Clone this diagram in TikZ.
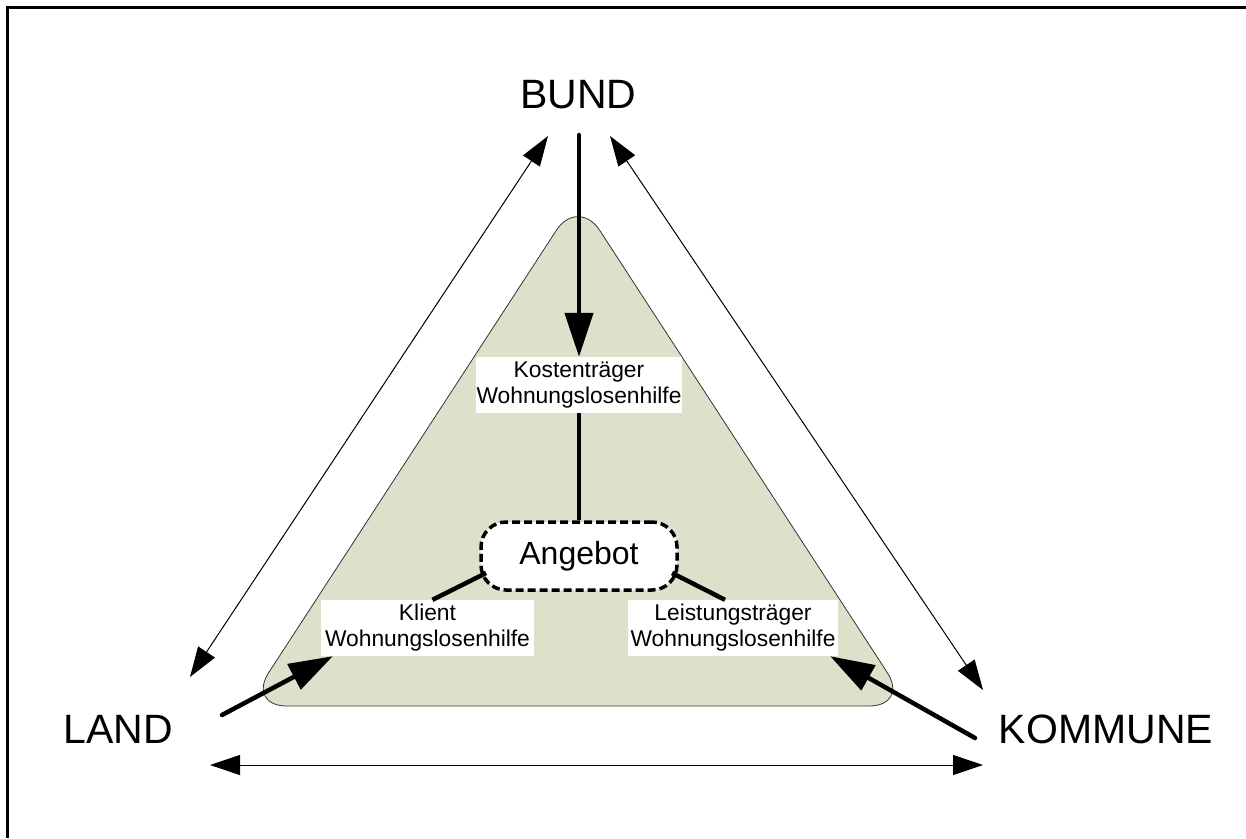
\documentclass[tikz,border=0pt]{standalone}
\usepackage{fontspec}
\setmainfont{Liberation Sans}
\usetikzlibrary{arrows.meta,calc}
\definecolor{trifill}{RGB}{221,225,204}
\begin{document}
\begin{tikzpicture}[x=1pt,y=-1pt,
  big/.style={font=\fontsize{41}{49}\selectfont, inner sep=0pt, anchor=base},
  lbl/.style={fill=white, inner sep=0pt, minimum height=56pt, align=center, font=\fontsize{22.8}{26}\selectfont},
  thickarrow/.style={line width=4.5pt, line cap=round, -{Triangle[length=44pt,width=28pt]}},
  thinarrow/.style={line width=1pt, {Triangle[length=30pt,width=20pt]}-{Triangle[length=30pt,width=20pt]}},
  link/.style={line width=4.5pt},
  offerbox/.style={draw, dash pattern=on 8pt off 4pt, line width=3.5pt, fill=white, rounded corners=25pt, minimum width=196pt, minimum height=68pt, inner sep=0pt, font=\fontsize{32}{38}\selectfont}
]
\useasboundingbox (0,0) rectangle (1246,838);
% frame
\draw[line width=2.2pt] (7.5,838) -- (7.5,7.5) -- (1246,7.5);
% triangle
\draw[fill=trifill, draw=black!80, line width=0.8pt, rounded corners=40pt]
  (578,706) -- (909,706) -- (578,197) -- (247,706) -- cycle;
% big labels
\node[big] (bund) at (578.5,108) {BUND};
\node[big] (land) at (118.5,743) {LAND};
\node[big] (kom) at (1106,743) {KOMMUNE};
% thin double arrows
\coordinate (lb1) at (190,677);
\coordinate (lb2) at (548,136);
\coordinate (bk1) at (610,136);
\coordinate (bk2) at (983,690);
\coordinate (h1) at (210,765);
\coordinate (h2) at (983,765);
\draw[thinarrow] (lb1) -- (lb2);
\draw[thinarrow] (bk1) -- (bk2);
\draw[thinarrow] (h1) -- (h2);
% inner nodes
\node[offerbox] (ang) at (579,556) {Angebot};
\node[lbl, minimum width=206pt] (kost) at (579,385) {Kostenträger\\Wohnungslosenhilfe};
\node[lbl, minimum width=213pt] (kli) at (427.5,628) {Klient\\Wohnungslosenhilfe};
\node[lbl, minimum width=210pt] (lei) at (733,628) {Leistungsträger\\Wohnungslosenhilfe};
% connectors
\coordinate (bs) at (579,135);
\draw[thickarrow] (bs) -- (kost.north);
\draw[link] (kost.south) -- (ang.north);
\draw[link] ([shift={(-93,17)}]ang.center) -- ([xshift=5pt]kli.north);
\draw[link] ([shift={(93,17)}]ang.center) -- ([xshift=-8pt]lei.north);
\coordinate (ls) at (222,715);
\draw[thickarrow] (ls) -- ([xshift=12pt]kli.south west);
\coordinate (ks) at (975,738);
\draw[thickarrow] (ks) -- ([xshift=-8pt]lei.south east);
\end{tikzpicture}
\end{document}
